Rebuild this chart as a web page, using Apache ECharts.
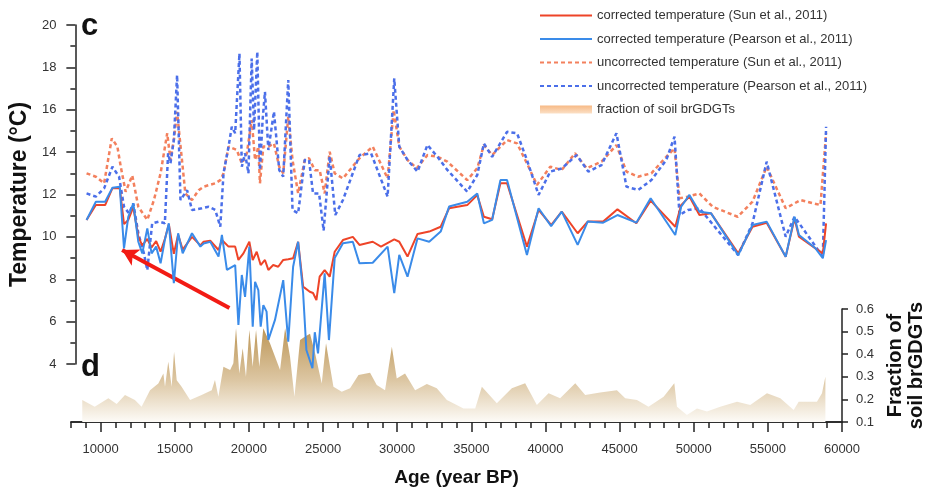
<!DOCTYPE html>
<html>
<head>
<meta charset="utf-8">
<script src="https://cdn.jsdelivr.net/npm/echarts@6/dist/echarts.min.js"></script>
<style>
  html, body { margin: 0; padding: 0; background: #fff; }
  #chart { width: 935px; height: 491px; }
</style>
</head>
<body>
<div id="chart"></div>
<script>
// corrected temperature (Sun et al., 2011)
const sunCorrAge = [8760, 9390, 10020, 10515, 11010, 11300, 11590, 11930, 12270, 12540, 12880, 13170, 13480, 13780, 14070, 14340, 14680, 14970, 15280, 15910, 16480, 16700, 17150, 17710, 17940, 18390, 18840, 19060, 19400, 19800, 20030, 20300, 20570, 20860, 21090, 21420, 21760, 22100, 22440, 22770, 23110, 23450, 23900, 24120, 24350, 24570, 24910, 25250, 25590, 26150, 26820, 27270, 28170, 28730, 29630, 29970, 30530, 31210, 32000, 32780, 33350, 34580, 35260, 35710, 36270, 36830, 37280, 38630, 39420, 40270, 40990, 42070, 42750, 43800, 44770, 46050, 47020, 48690, 49090, 49650, 50330, 51120, 52960, 53930, 54890, 56180, 56780, 57080, 58200, 58700, 58920]
const sunCorrTemp = [10.8, 11.5, 11.5, 12.3, 12.3, 10.6, 10.8, 11.4, 10.0, 9.6, 9.9, 9.5, 9.8, 9.3, 9.9, 10.6, 9.2, 10.1, 9.4, 10.0, 9.6, 9.77, 9.82, 9.38, 9.85, 9.54, 9.54, 8.91, 9.22, 9.77, 8.91, 9.3, 8.67, 8.91, 8.44, 8.67, 8.59, 8.91, 8.94, 8.99, 9.77, 7.65, 7.41, 7.35, 7.02, 8.12, 8.43, 8.12, 9.3, 9.85, 10.0, 9.62, 9.77, 9.54, 9.88, 9.77, 9.07, 10.14, 10.25, 10.48, 11.35, 11.5, 11.97, 10.95, 10.83, 12.53, 12.53, 9.54, 11.27, 10.56, 11.19, 10.17, 10.72, 10.72, 11.3, 10.64, 11.71, 10.48, 11.5, 11.9, 11.03, 11.11, 9.22, 10.48, 10.67, 9.06, 10.87, 10.01, 9.46, 9.22, 10.64]

// corrected temperature (Pearson et al., 2011)
const pearsonCorrAge = [8760, 9390, 10020, 10515, 11010, 11300, 11590, 11930, 12270, 12540, 12880, 13170, 13480, 13780, 14070, 14340, 14680, 14970, 15280, 15910, 16480, 16700, 17150, 17710, 17940, 18280, 18840, 19060, 19290, 19510, 19800, 20030, 20190, 20410, 20570, 20750, 20970, 21090, 21540, 22100, 22440, 22770, 23110, 23450, 23670, 24080, 24240, 24460, 24910, 25200, 25590, 26150, 26820, 27270, 28170, 29180, 29630, 29970, 30530, 31210, 32000, 32780, 33350, 34580, 35260, 35710, 36270, 36830, 37280, 38630, 39420, 40270, 40990, 42070, 42750, 43800, 44770, 46050, 47020, 48690, 49090, 49650, 50330, 51120, 52960, 53930, 54890, 56180, 56780, 57080, 58200, 58700, 58920]
const pearsonCorrTemp = [10.8, 11.66, 11.66, 12.32, 12.37, 9.46, 10.95, 11.58, 9.77, 9.22, 10.4, 9.22, 9.54, 8.75, 9.85, 10.64, 7.81, 10.17, 9.22, 10.17, 9.54, 9.69, 9.77, 9.07, 10.09, 8.44, 8.67, 5.84, 8.2, 7.17, 9.54, 5.76, 7.88, 7.49, 5.76, 6.78, 6.47, 5.13, 6.08, 7.96, 5.05, 8.59, 9.77, 7.34, 4.66, 3.8, 5.5, 4.5, 8.28, 5.13, 9.0, 9.7, 9.77, 8.75, 8.78, 9.54, 7.34, 9.15, 8.12, 9.93, 9.77, 10.25, 11.43, 11.66, 12.05, 10.64, 10.8, 12.68, 12.68, 9.14, 11.35, 10.51, 11.19, 9.62, 10.72, 10.67, 11.03, 10.67, 11.82, 10.09, 11.42, 11.98, 11.19, 11.11, 9.14, 10.56, 10.72, 9.06, 10.95, 10.09, 9.46, 8.99, 9.85]

// uncorrected temperature (Sun et al., 2011)
const sunUncAge = [8760, 9390, 9950, 10470, 10850, 11080, 11410, 11860, 12270, 12880, 13330, 13780, 14230, 14450, 14680, 14900, 15460, 15910, 16360, 16700, 17490, 17830, 18050, 18390, 18950, 19290, 19630, 19960, 20190, 20410, 20520, 20750, 21090, 21470, 21830, 22100, 22440, 22730, 23110, 23560, 23850, 24240, 24570, 24910, 25250, 25590, 26150, 27270, 28170, 29180, 29590, 29970, 30530, 31160, 31880, 32560, 33230, 34580, 35260, 35710, 36270, 37280, 37960, 38630, 39310, 40210, 40990, 41890, 42680, 43690, 44700, 45380, 46170, 47070, 48080, 48640, 48980, 49540, 50330, 51230, 52920, 53930, 54890, 56180, 57190, 58540, 58920]
const sunUncTemp = [13.0, 12.84, 12.53, 14.65, 14.26, 13.31, 12.13, 12.9, 11.42, 10.8, 11.74, 13.0, 14.89, 13.63, 14.57, 15.9, 12.05, 11.74, 12.2, 12.37, 12.53, 12.68, 13.0, 14.26, 14.1, 13.47, 13.94, 15.51, 13.63, 14.26, 12.53, 14.26, 14.26, 14.41, 13.31, 13.0, 15.67, 13.63, 12.05, 13.63, 13.71, 13.15, 13.15, 12.05, 14.02, 13.0, 12.76, 13.71, 14.26, 12.76, 15.99, 14.26, 13.63, 13.24, 13.86, 13.78, 13.55, 12.68, 13.24, 14.34, 13.86, 14.57, 14.41, 13.47, 12.45, 13.31, 13.16, 13.94, 13.24, 13.55, 14.33, 13.08, 12.84, 13.0, 13.78, 14.18, 11.82, 11.9, 12.05, 11.42, 10.95, 11.66, 13.31, 11.35, 11.74, 11.5, 14.89]

// uncorrected temperature (Pearson et al., 2011)
const pearsonUncAge = [8760, 9390, 9950, 10515, 10965, 11300, 11640, 11930, 12270, 12650, 12880, 13210, 13660, 14070, 14290, 14450, 14680, 14900, 15130, 15580, 15910, 16590, 17040, 17490, 17830, 18050, 18390, 18610, 18840, 19130, 19290, 19510, 19740, 19960, 20120, 20340, 20520, 20700, 20860, 21090, 21470, 21830, 22100, 22440, 22730, 23110, 23560, 23850, 24120, 24530, 24840, 25250, 25630, 26150, 27270, 28060, 29180, 29630, 29970, 30530, 31210, 31880, 32560, 33230, 34580, 35260, 35710, 36270, 37280, 37960, 38630, 39420, 40210, 40990, 42000, 42790, 43690, 44700, 45380, 46170, 47070, 48080, 48640, 48980, 49540, 50330, 52960, 53930, 54890, 56180, 56780, 58700, 58920]
const pearsonUncTemp = [12.05, 11.9, 12.29, 13.31, 12.84, 11.42, 11.11, 11.58, 10.17, 9.22, 8.43, 10.64, 10.72, 10.64, 13.94, 13.47, 14.57, 17.64, 11.74, 12.2, 11.27, 11.35, 11.42, 11.27, 10.48, 13.0, 14.26, 15.2, 14.89, 18.66, 13.31, 13.94, 13.0, 18.42, 15.04, 18.74, 13.15, 15.51, 16.85, 14.1, 15.91, 13.15, 12.84, 17.4, 11.27, 11.11, 13.63, 13.63, 12.05, 12.05, 10.3, 13.8, 11.03, 11.74, 13.86, 13.94, 11.9, 17.48, 14.26, 13.63, 13.08, 14.34, 13.78, 13.16, 12.13, 12.92, 14.41, 13.78, 14.96, 14.89, 13.63, 11.98, 13.08, 13.23, 13.86, 13.08, 13.39, 14.89, 12.37, 12.21, 12.68, 13.63, 14.73, 11.03, 11.27, 11.35, 9.14, 10.64, 13.55, 10.01, 10.95, 9.06, 15.2]

// fraction of soil brGDGTs
const fracAge = [8760, 9600, 10520, 11080, 11640, 12310, 12760, 13330, 13890, 14230, 14340, 14560, 14790, 14950, 15130, 15460, 16030, 16810, 17490, 17710, 17940, 18280, 18730, 18950, 19130, 19350, 19580, 19800, 20030, 20250, 20480, 20700, 20970, 21420, 22100, 22440, 22770, 23070, 23450, 23790, 24120, 24460, 24910, 25200, 25700, 26260, 26820, 27390, 28170, 28620, 29180, 29640, 29970, 30530, 31210, 32000, 32670, 33350, 34470, 35260, 35710, 36720, 37730, 38630, 39420, 40210, 40990, 42010, 42680, 43690, 44820, 45380, 46170, 46950, 47970, 48690, 48870, 49540, 50220, 50890, 51790, 52920, 53810, 54940, 55840, 56740, 57080, 58310, 58650, 58880]
const fracSoil = [0.197, 0.168, 0.205, 0.18, 0.22, 0.197, 0.168, 0.24, 0.27, 0.315, 0.256, 0.367, 0.256, 0.41, 0.285, 0.256, 0.197, 0.22, 0.24, 0.286, 0.212, 0.345, 0.33, 0.36, 0.515, 0.315, 0.426, 0.3, 0.507, 0.345, 0.507, 0.345, 0.515, 0.448, 0.33, 0.515, 0.39, 0.212, 0.463, 0.478, 0.49, 0.404, 0.27, 0.448, 0.256, 0.234, 0.249, 0.308, 0.318, 0.264, 0.241, 0.433, 0.293, 0.315, 0.241, 0.268, 0.249, 0.197, 0.16, 0.16, 0.256, 0.183, 0.249, 0.271, 0.175, 0.227, 0.205, 0.271, 0.219, 0.23, 0.241, 0.205, 0.197, 0.168, 0.212, 0.271, 0.168, 0.131, 0.16, 0.146, 0.168, 0.19, 0.175, 0.227, 0.205, 0.153, 0.19, 0.19, 0.227, 0.30]

const majorAges = [10000, 15000, 20000, 25000, 30000, 35000, 40000, 45000, 50000, 55000, 60000]
const minorAges = [8000, 9000, 11000, 12000, 13000, 14000, 16000, 17000, 18000, 19000, 21000, 22000, 23000, 24000, 26000, 27000, 28000, 29000, 31000, 32000, 33000, 34000, 36000, 37000, 38000, 39000, 41000, 42000, 43000, 44000, 46000, 47000, 48000, 49000, 51000, 52000, 53000, 54000, 56000, 57000, 58000, 59000]

// red arrow annotation (age, temperature)
const arrowFrom = [18450, 6.64]
const arrowTo = [11170, 9.38]

const names = [
  'corrected temperature (Sun et al., 2011)',
  'corrected temperature (Pearson et al., 2011)',
  'uncorrected temperature (Sun et al., 2011)',
  'uncorrected temperature (Pearson et al., 2011)',
  'fraction of soil brGDGTs',
]

function pairs(xs, ys) {
  return xs.map((x, i) => [x, ys[i]])
}

const font = 'Liberation Sans'
const axisColor = '#222'
const labelColor = '#333'

const chart = echarts.init(document.getElementById('chart'))

const options = {
  backgroundColor: '#fff',
  animation: false,
  textStyle: { fontFamily: font },
  grid: [
    { left: 71, right: 93, top: 25, height: 339 },
    { left: 71, right: 93, top: 309, height: 113 },
  ],
  legend: {
    orient: 'vertical',
    left: 534,
    top: 4,
    itemWidth: 52,
    itemHeight: 8,
    itemGap: 10.5,
    textStyle: { fontSize: 13, color: labelColor, fontFamily: font },
    data: [
      { name: names[0], itemStyle: { opacity: 0 } },
      { name: names[1], itemStyle: { opacity: 0 } },
      { name: names[2], itemStyle: { opacity: 0 } },
      { name: names[3], itemStyle: { opacity: 0 } },
      {
        name: names[4],
        icon: 'rect',
        itemStyle: {
          opacity: 1,
          color: new echarts.graphic.LinearGradient(0, 0, 0, 1, [
            { offset: 0, color: '#f7b985' },
            { offset: 1, color: '#fbe0c6' },
          ]),
        },
      },
    ],
  },
  xAxis: [
    {
      gridIndex: 0,
      type: 'value',
      min: 8000,
      max: 60000,
      show: false,
    },
    {
      gridIndex: 1,
      type: 'value',
      position: 'bottom',
      min: 8000,
      max: 60000,
      name: 'Age (year BP)',
      nameLocation: 'middle',
      nameGap: 46,
      nameTextStyle: { fontSize: 19, fontWeight: 'bold', color: '#111', fontFamily: font },
      axisLine: { lineStyle: { color: axisColor, width: 1.5 } },
      axisTick: { customValues: majorAges, length: 10, lineStyle: { color: axisColor, width: 1.5 } },
      axisLabel: { customValues: majorAges, margin: 21, fontSize: 13, color: labelColor, fontFamily: font, formatter: (v) => String(v) },
      splitLine: { show: false },
    },
    {
      gridIndex: 1,
      type: 'value',
      position: 'bottom',
      min: 8000,
      max: 60000,
      axisLine: { show: true, lineStyle: { color: axisColor, width: 1.5 } },
      axisTick: { customValues: minorAges, length: 6, lineStyle: { color: axisColor, width: 1.5 } },
      axisLabel: { show: false },
      splitLine: { show: false },
    },
  ],
  yAxis: [
    {
      gridIndex: 0,
      type: 'value',
      min: 4,
      max: 20,
      interval: 2,
      name: 'Temperature (°C)',
      nameLocation: 'middle',
      nameGap: 34,
      nameTextStyle: { fontSize: 23, fontWeight: 'bold', color: '#111', fontFamily: font },
      axisLine: { show: true, lineStyle: { color: axisColor, width: 1.5 } },
      axisTick: { show: true, length: 9, lineStyle: { color: axisColor, width: 1.5 } },
      minorTick: { show: true, splitNumber: 2, length: 5, lineStyle: { color: axisColor, width: 1.5 } },
      axisLabel: { margin: 19, fontSize: 13, color: labelColor, fontFamily: font },
      splitLine: { show: false },
    },
    {
      gridIndex: 1,
      type: 'value',
      position: 'right',
      min: 0.1,
      max: 0.6,
      interval: 0.1,
      name: 'Fraction of\nsoil brGDGTs',
      nameLocation: 'middle',
      nameRotate: 90,
      nameGap: 40,
      nameTextStyle: { fontSize: 20, fontWeight: 'bold', color: '#111', lineHeight: 21, fontFamily: font },
      axisLine: { show: true, lineStyle: { color: axisColor, width: 1.5 } },
      axisTick: { show: true, length: 6, lineStyle: { color: axisColor, width: 1.5 } },
      axisLabel: { margin: 14, fontSize: 13, color: labelColor, fontFamily: font, formatter: (v) => v.toFixed(1) },
      splitLine: { show: false },
    },
  ],
  graphic: [
    { type: 'text', x: 81, y: 26, style: { text: 'c', font: 'bold 31px Liberation Sans', fill: '#111', verticalAlign: 'middle' } },
    { type: 'text', x: 81, y: 367, style: { text: 'd', font: 'bold 31px Liberation Sans', fill: '#111', verticalAlign: 'middle' } },
  ],
  series: [
    {
      name: names[4],
      type: 'line',
      xAxisIndex: 1,
      yAxisIndex: 1,
      data: pairs(fracAge, fracSoil),
      symbol: 'none',
      lineStyle: { width: 0 },
      areaStyle: {
        opacity: 1,
        color: new echarts.graphic.LinearGradient(0, 0, 0, 1, [
          { offset: 0, color: '#bd9657' },
          { offset: 0.55, color: '#dcc6a2' },
          { offset: 1, color: '#fdfbf7' },
        ]),
      },
      z: 1,
    },
    {
      name: names[2],
      type: 'line',
      xAxisIndex: 0,
      yAxisIndex: 0,
      data: pairs(sunUncAge, sunUncTemp),
      symbol: 'none',
      clip: false,
      lineStyle: { color: '#f3805d', width: 2.5, type: [4, 3] },
      itemStyle: { color: '#f3805d' },
      z: 2,
    },
    {
      name: names[3],
      type: 'line',
      xAxisIndex: 0,
      yAxisIndex: 0,
      data: pairs(pearsonUncAge, pearsonUncTemp),
      symbol: 'none',
      clip: false,
      lineStyle: { color: '#4b6fe9', width: 2.5, type: [4, 3] },
      itemStyle: { color: '#4b6fe9' },
      z: 3,
    },
    {
      name: names[0],
      type: 'line',
      xAxisIndex: 0,
      yAxisIndex: 0,
      data: pairs(sunCorrAge, sunCorrTemp),
      symbol: 'none',
      clip: false,
      lineStyle: { color: '#ee4428', width: 2 },
      itemStyle: { color: '#ee4428' },
      z: 4,
    },
    {
      name: names[1],
      type: 'line',
      xAxisIndex: 0,
      yAxisIndex: 0,
      data: pairs(pearsonCorrAge, pearsonCorrTemp),
      symbol: 'none',
      clip: false,
      lineStyle: { color: '#3a8be9', width: 2 },
      itemStyle: { color: '#3a8be9' },
      z: 5,
      markLine: {
        silent: true,
        symbol: ['none', 'arrow'],
        symbolSize: [14, 16],
        label: { show: false },
        lineStyle: { color: '#f21b14', width: 4, type: 'solid' },
        data: [[{ coord: arrowFrom }, { coord: arrowTo }]],
      },
    },
  ],
}

chart.setOption(options)
</script>
</body>
</html>
